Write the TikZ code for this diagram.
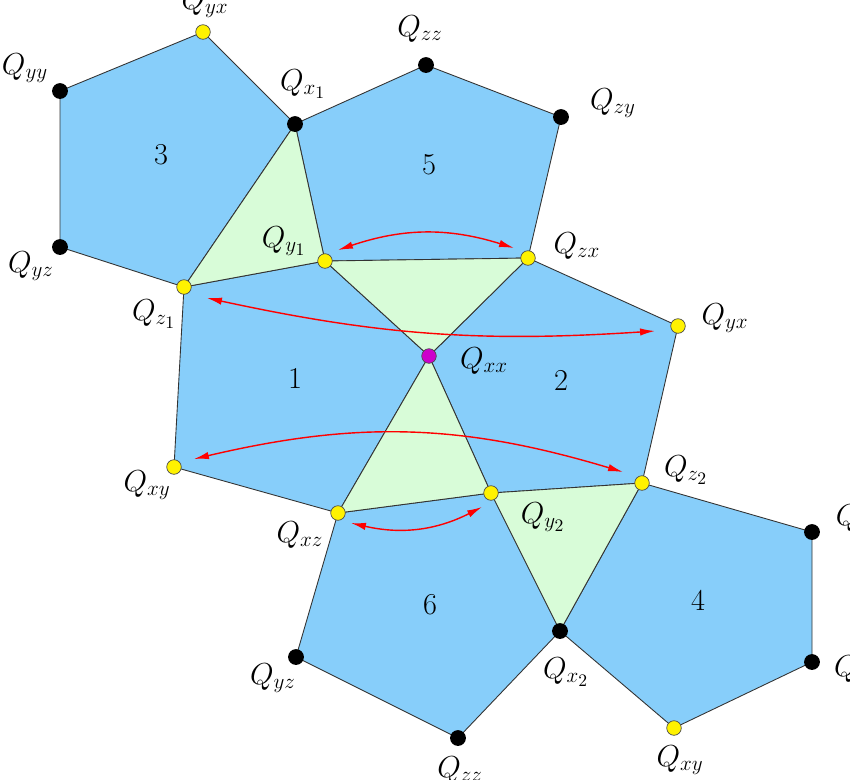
\documentclass[tikz,border=0pt]{standalone}
\usepackage{tikz}
\usetikzlibrary{arrows.meta}
\definecolor{panel}{RGB}{135,206,250}
\definecolor{wedge}{RGB}{216,252,216}
\definecolor{centre}{RGB}{204,0,204}
\tikzset{
	pent/.style={fill=panel, draw=black!80, line width=0.5pt, line join=round},
	tri/.style={fill=wedge, draw=black!80, line width=0.5pt, line join=round},
	bdot/.style={circle, fill=black, inner sep=0pt, minimum size=9pt},
	ydot/.style={circle, fill=yellow, draw=black!70, line width=0.4pt, inner sep=0pt, minimum size=8.3pt},
	mdot/.style={ydot, fill=centre},
	lab/.style={font=\LARGE, inner sep=0pt},
	swap/.style={red, line width=0.8pt, {Latex[length=8.5pt,width=4.2pt]}-{Latex[length=8.5pt,width=4.2pt]}}
}

\begin{document}
\begin{tikzpicture}[x=0.02cm, y=0.02cm]
			%%%%% START %%%%%
			\useasboundingbox (0, 0) rectangle (850, -779);
			
			% vertices
			\coordinate (yxA) at (203, -32);
			\coordinate (yyA) at (60, -91);
			\coordinate (yzA) at (60, -247);
			\coordinate (zA) at (184, -287);
			\coordinate (xA) at (295, -124);
			\coordinate (zzA) at (426, -65);
			\coordinate (zyA) at (561, -117);
			\coordinate (zx) at (528, -258);
			\coordinate (yA) at (325, -261);
			\coordinate (xx) at (429, -356);
			\coordinate (yxB) at (678, -326);
			\coordinate (zB) at (642, -483);
			\coordinate (yB) at (491, -493);
			\coordinate (xz) at (338, -513);
			\coordinate (xyA) at (174, -467);
			\coordinate (xB) at (560, -631);
			\coordinate (yzB) at (296, -657);
			\coordinate (zzB) at (458, -738);
			\coordinate (xyB) at (674, -728);
			\coordinate (yyB) at (812, -532);
			\coordinate (zyB) at (812, -662);
			
			% pentagons
			\draw[pent] (yyA) -- (yxA) -- (xA) -- (zA) -- (yzA) -- cycle;
			\draw[pent] (xA) -- (zzA) -- (zyA) -- (zx) -- (yA) -- cycle;
			\draw[pent] (zA) -- (yA) -- (xx) -- (xz) -- (xyA) -- cycle;
			\draw[pent] (zx) -- (yxB) -- (zB) -- (yB) -- (xx) -- cycle;
			\draw[pent] (xz) -- (yB) -- (xB) -- (zzB) -- (yzB) -- cycle;
			\draw[pent] (zB) -- (yyB) -- (zyB) -- (xyB) -- (xB) -- cycle;
			
			% triangles
			\draw[tri] (xA) -- (yA) -- (zA) -- cycle;
			\draw[tri] (yA) -- (zx) -- (xx) -- cycle;
			\draw[tri] (xx) -- (yB) -- (xz) -- cycle;
			\draw[tri] (yB) -- (zB) -- (xB) -- cycle;
			
			% panel numbers
			\node[lab] (nA) at (161, -155) {3};
			\node[lab] (nB) at (429, -165) {5};
			\node[lab] (nC) at (295, -378) {1};
			\node[lab] (nD) at (561, -380) {2};
			\node[lab] (nE) at (430, -605) {6};
			\node[lab] (nF) at (698, -600) {4};
			
			% swaps
			\coordinate (sA) at (338, -250);
			\coordinate (eA) at (514, -248);
			\coordinate (sB) at (207, -298);
			\coordinate (eB) at (655, -331);
			\coordinate (sC) at (194, -459);
			\coordinate (eC) at (623, -472);
			\coordinate (sD) at (351, -523);
			\coordinate (eD) at (482, -507);
			\draw[swap] (sA) to[bend left=18] (eA);
			\draw[swap] (sB) to[bend right=8] (eB);
			\draw[swap] (sC) to[bend left=15] (eC);
			\draw[swap] (sD) to[bend right=20] (eD);
			
			% dots
			\node[ydot] (dyxA) at (yxA) {};
			\node[bdot] (dyyA) at (yyA) {};
			\node[bdot] (dyzA) at (yzA) {};
			\node[ydot] (dzA) at (zA) {};
			\node[bdot] (dxA) at (xA) {};
			\node[bdot] (dzzA) at (zzA) {};
			\node[bdot] (dzyA) at (zyA) {};
			\node[ydot] (dzx) at (zx) {};
			\node[ydot] (dyA) at (yA) {};
			\node[mdot] (dxx) at (xx) {};
			\node[ydot] (dyxB) at (yxB) {};
			\node[ydot] (dzB) at (zB) {};
			\node[ydot] (dyB) at (yB) {};
			\node[ydot] (dxz) at (xz) {};
			\node[ydot] (dxyA) at (xyA) {};
			\node[bdot] (dxB) at (xB) {};
			\node[bdot] (dyzB) at (yzB) {};
			\node[bdot] (dzzB) at (zzB) {};
			\node[ydot] (dxyB) at (xyB) {};
			\node[bdot] (dyyB) at (yyB) {};
			\node[bdot] (dzyB) at (zyB) {};
			
			% labels
			\node[lab] (lyxA) at (205, -3) {$Q_{yx}$};
			\node[lab] (lyyA) at (25, -68) {$Q_{yy}$};
			\node[lab] (lyzA) at (31, -266) {$Q_{yz}$};
			\node[lab] (lzA) at (154, -314) {$Q_{z_1}$};
			\node[lab] (lxA) at (303, -84) {$Q_{x_1}$};
			\node[lab] (lzzA) at (420, -29) {$Q_{zz}$};
			\node[lab] (lzyA) at (613, -103) {$Q_{zy}$};
			\node[lab] (lzx) at (577, -246) {$Q_{zx}$};
			\node[lab] (lyA) at (284, -241) {$Q_{y_1}$};
			\node[lab] (lxx) at (484, -361) {$Q_{xx}$};
			\node[lab] (lyxB) at (725, -318) {$Q_{yx}$};
			\node[lab] (lzB) at (686, -470) {$Q_{z_2}$};
			\node[lab] (lyB) at (543, -517) {$Q_{y_2}$};
			\node[lab] (lxz) at (300, -535) {$Q_{xz}$};
			\node[lab] (lxyA) at (147, -485) {$Q_{xy}$};
			\node[lab] (lxB) at (566, -672) {$Q_{x_2}$};
			\node[lab] (lyzB) at (273, -678) {$Q_{yz}$};
			\node[lab] (lzzB) at (460, -770) {$Q_{zz}$};
			\node[lab] (lxyB) at (680, -760) {$Q_{xy}$};
			\node[lab] (lyyB) at (859, -519) {$Q_{yy}$};
			\node[lab] (lzyB) at (857, -670) {$Q_{zy}$};
			
			%%%%% END %%%%%
\end{tikzpicture}
\end{document}
